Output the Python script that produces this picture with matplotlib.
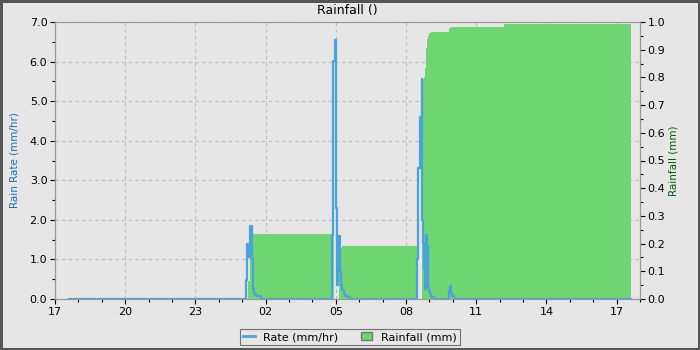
import pandas as pd
import matplotlib
matplotlib.use("Agg")
import matplotlib.pyplot as plt
import matplotlib.dates as mdates
from matplotlib.patches import Patch
from matplotlib.lines import Line2D

# rain rate (mm/hr), stepped
rate_times = ['2024-05-01 17:36', '2024-05-02 01:09', '2024-05-02 01:12', '2024-05-02 01:16',
              '2024-05-02 01:20', '2024-05-02 01:24', '2024-05-02 01:27', '2024-05-02 01:29',
              '2024-05-02 01:35', '2024-05-02 01:48', '2024-05-02 04:51', '2024-05-02 04:54',
              '2024-05-02 04:57', '2024-05-02 05:00', '2024-05-02 05:02', '2024-05-02 05:04',
              '2024-05-02 05:06', '2024-05-02 05:08', '2024-05-02 05:11', '2024-05-02 05:13',
              '2024-05-02 05:16', '2024-05-02 05:20', '2024-05-02 05:23', '2024-05-02 05:29',
              '2024-05-02 05:36', '2024-05-02 08:29', '2024-05-02 08:32', '2024-05-02 08:35',
              '2024-05-02 08:37', '2024-05-02 08:40', '2024-05-02 08:42', '2024-05-02 08:44',
              '2024-05-02 08:46', '2024-05-02 08:48', '2024-05-02 08:51', '2024-05-02 08:55',
              '2024-05-02 08:57', '2024-05-02 08:59', '2024-05-02 09:01', '2024-05-02 09:05',
              '2024-05-02 09:13', '2024-05-02 09:50', '2024-05-02 09:52', '2024-05-02 09:55',
              '2024-05-02 09:58', '2024-05-02 10:03', '2024-05-02 17:37']
rate_vals = [0, 0.48, 1.38, 1.05,
             1.85, 1.0, 0.25, 0.12,
             0.08, 0, 1.62, 6.02,
             6.55, 2.3, 1.55, 0.35,
             0.82, 1.6, 0.7, 0.35,
             0.22, 0.12, 0.08, 0.05,
             0, 1.0, 3.3, 4.18,
             4.6, 5.57, 2.0, 1.42,
             0.75, 0.25, 1.62, 1.35,
             0.3, 0.2, 0.12, 0.06,
             0, 0.2, 0.33, 0.15,
             0.08, 0, 0]

# rainfall (mm), stepped
rain_times = ['2024-05-01 17:36', '2024-05-02 01:14', '2024-05-02 01:19', '2024-05-02 01:24',
              '2024-05-02 01:28', '2024-05-02 04:51', '2024-05-02 04:55', '2024-05-02 05:09',
              '2024-05-02 05:11', '2024-05-02 05:15', '2024-05-02 08:29', '2024-05-02 08:42',
              '2024-05-02 08:46', '2024-05-02 08:48', '2024-05-02 08:50', '2024-05-02 08:52',
              '2024-05-02 08:54', '2024-05-02 08:56', '2024-05-02 09:00', '2024-05-02 09:04',
              '2024-05-02 09:50', '2024-05-02 09:55', '2024-05-02 12:12', '2024-05-02 17:37']
rain_vals = [0, 0.065, 0.20, 0.222,
             0.233, 0.24, 0, 0.17,
             0.185, 0.193, 0, 0.794,
             0.80, 0.834, 0.87, 0.906,
             0.94, 0.95, 0.959, 0.963,
             0.977, 0.982, 0.993, 0.993]

t_rate = pd.to_datetime(rate_times)
t_rain = pd.to_datetime(rain_times)

bg = '#e6e6e6'
blue = '#4aa3dc'
green = '#70d672'

fig = plt.figure(figsize=(7, 3.5), dpi=100, facecolor=bg)
fig.patch.set_edgecolor('#555555')
fig.patch.set_linewidth(2.5)

ax = fig.add_axes([55 / 700, 1 - 299 / 350, 585 / 700, 277 / 350])
ax.set_facecolor(bg)
ax_rain = ax.twinx()
ax_line = ax.twinx()

ax_rain.fill_between(t_rain, rain_vals, step='post', color=green, linewidth=0)
ax_line.step(t_rate, rate_vals, where='post', color=blue, lw=1.6)

ax.set_xlim(pd.Timestamp('2024-05-01 17:00'), pd.Timestamp('2024-05-02 18:00'))
ax.set_ylim(0, 7)
ax_line.set_ylim(0, 7)
ax_rain.set_ylim(0, 1)
ax_line.axis('off')

ax.xaxis.set_major_locator(mdates.HourLocator(byhour=[2, 5, 8, 11, 14, 17, 20, 23]))
ax.xaxis.set_minor_locator(mdates.HourLocator())
ax.xaxis.set_major_formatter(mdates.DateFormatter('%H'))
ax.set_yticks([0, 1, 2, 3, 4, 5, 6, 7])
ax.set_yticks([0.5, 1.5, 2.5, 3.5, 4.5, 5.5, 6.5], minor=True)
ax.yaxis.set_major_formatter(matplotlib.ticker.FormatStrFormatter('%.1f'))
ax_rain.set_yticks([i / 10 for i in range(11)])
ax_rain.set_yticks([i / 20 for i in range(1, 20, 2)], minor=True)
ax_rain.yaxis.set_major_formatter(matplotlib.ticker.FormatStrFormatter('%.1f'))

for a in (ax, ax_rain):
    a.tick_params(which='major', length=3.5, width=0.8, labelsize=8, colors='black', pad=2)
    a.tick_params(which='minor', length=2, width=0.8)
    for s in a.spines.values():
        s.set_color('#999999')

ax.grid(True, which='major', color='#bbbbbb', linestyle=(0, (3, 3)), linewidth=0.8)

ax.set_ylabel('Rain Rate (mm/hr)', color='#1f6fa8', fontsize=7.5, labelpad=7)
ax_rain.set_ylabel('Rainfall (mm)', color='#0a5a0a', fontsize=7.5, labelpad=2)
ax.set_title('Rainfall ()', fontsize=9, pad=6)

handles = [Line2D([], [], color=blue, lw=2),
           Patch(facecolor=green, edgecolor='#777777')]
leg = fig.legend(handles, ['Rate (mm/hr)', 'Rainfall (mm)'], loc='center',
                 bbox_to_anchor=(350 / 700, 1 - 337 / 350), ncol=2, fontsize=8,
                 frameon=True, fancybox=False, facecolor=bg, edgecolor='#555555',
                 handlelength=1.0, handleheight=0.8, columnspacing=2.0, borderpad=0.3)
leg.get_frame().set_linewidth(0.8)

fig.savefig('out.png', dpi=100, facecolor=bg, edgecolor='#555555')
